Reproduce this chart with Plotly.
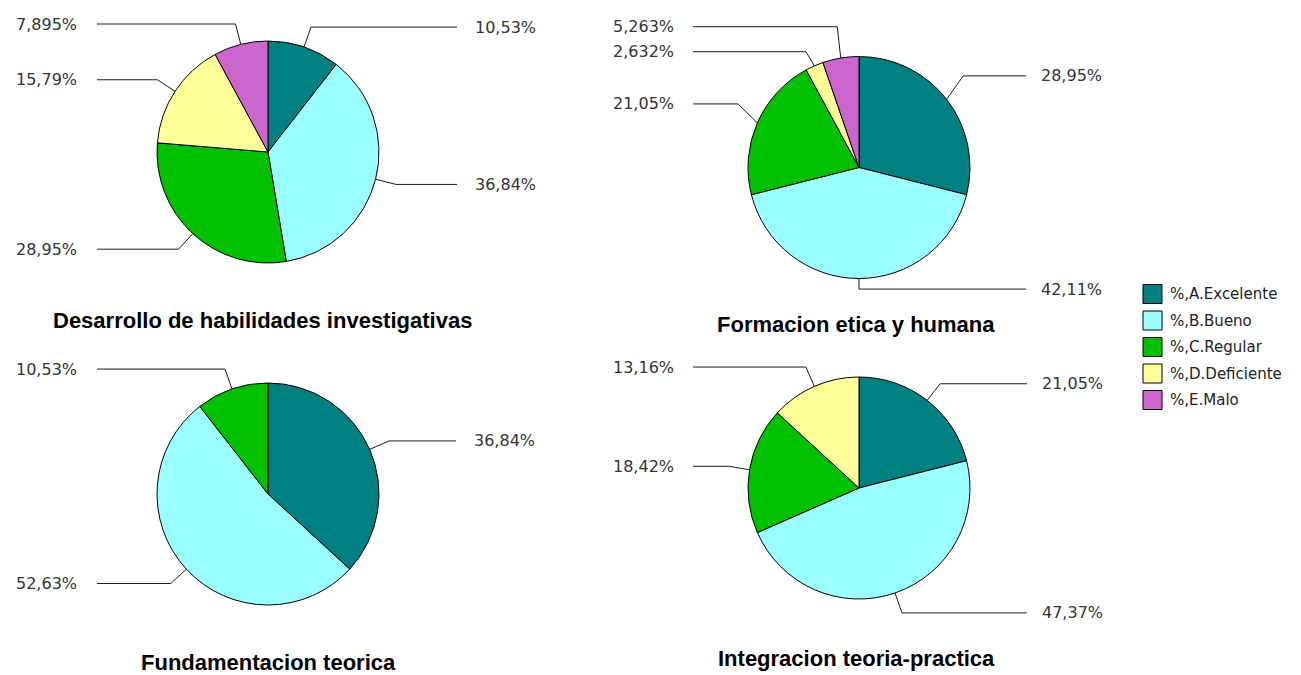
import math
import plotly.graph_objects as go

# ---------------- data ----------------
categories = ["%,A.Excelente", "%,B.Bueno", "%,C.Regular", "%,D.Deficiente", "%,E.Malo"]
colors = ["#008080", "#99FFFF", "#00C000", "#FFFF99", "#CC66CC"]

titles = [
    "Desarrollo de habilidades investigativas",
    "Formacion etica y humana",
    "Fundamentacion teorica",
    "Integracion teoria-practica",
]
desarrollo = [10.53, 36.84, 28.95, 15.79, 7.895]
formacion = [28.95, 42.11, 21.05, 2.632, 5.263]
fundamentacion = [36.84, 52.63, 10.53, 0, 0]
integracion = [21.05, 47.37, 18.42, 13.16, 0]
series = [desarrollo, formacion, fundamentacion, integracion]

# ---------------- layout (pixels) ----------------
W, H = 1301, 675
R = 111          # pie radius
K = 1.19         # elbow radius factor
GAP = 25         # min vertical gap between labels
YMIN = 24        # top clamp for labels

panels = [
    # cx, cy, label-centre dy, right line end, right text, left line start, left text, title x, title y
    dict(cx=268, cy=152, ldy=0, rl=189, rt=206, ll=171, lt=190, tx=262, ty=320),
    dict(cx=859, cy=167.5, ldy=-10.5, rl=167, rt=181, ll=166, lt=184, tx=856, ty=324),
    dict(cx=268, cy=494, ldy=0, rl=188, rt=205, ll=171, lt=190, tx=268, ty=662),
    dict(cx=859, cy=488, ldy=0, rl=168, rt=182, ll=166, lt=184, tx=856, ty=658),
]

LABEL_FONT = dict(family="DejaVu Sans, Verdana, sans-serif", size=16, color="#333333")
TITLE_FONT = dict(family="Liberation Sans, Arial, sans-serif", size=22, color="#000000", weight="bold")


def fx(x):
    return x / W


def fy(y):
    return 1 - y / H


def fmt(v):
    return "{:.4g}".format(v).replace(".", ",") + "%"


fig = go.Figure()
shapes = []
annotations = []

for vals_all, title, p in zip(series, titles, panels):
    cats = [c for c, v in zip(categories, vals_all) if v > 0]
    cols = [col for col, v in zip(colors, vals_all) if v > 0]
    vals = [v for v in vals_all if v > 0]
    cx, cy = p["cx"], p["cy"]
    fig.add_trace(go.Pie(
        labels=cats, values=vals, sort=False, direction="clockwise", rotation=0,
        marker=dict(colors=cols, line=dict(color="#000000", width=1)),
        textinfo="none", showlegend=False,
        hovertemplate="%{label}: %{value}<extra></extra>",
        domain=dict(x=[fx(cx - R), fx(cx + R)], y=[fy(cy + R), fy(cy - R)]),
    ))

    total = sum(vals)
    cum = 0.0
    items = []
    for v in vals:
        th = 2 * math.pi * (cum + v / 2) / total
        cum += v
        s, c = math.sin(th), math.cos(th)
        items.append(dict(
            v=v,
            edge=(cx + R * s, cy - R * c),
            ex=cx + K * R * s,
            ly=cy + p["ldy"] - K * R * c,
            side="right" if s > -0.02 else "left",
        ))

    for side in ("left", "right"):
        grp = sorted([it for it in items if it["side"] == side], key=lambda d: d["ly"])
        prev = None
        for it in grp:
            y = max(it["ly"], YMIN)
            if prev is not None:
                y = max(y, prev + GAP)
            it["ly"] = y
            prev = y

    for it in items:
        x0, y0 = it["edge"]
        ly = it["ly"]
        if it["side"] == "right":
            xend = cx + p["rl"]
            tx, anchor = cx + p["rt"], "left"
        else:
            xend = cx - p["ll"]
            tx, anchor = cx - p["lt"], "right"
        path = "M {:.5f},{:.5f} L {:.5f},{:.5f} L {:.5f},{:.5f}".format(
            fx(x0), fy(y0), fx(it["ex"]), fy(ly), fx(xend), fy(ly))
        shapes.append(dict(type="path", path=path, xref="paper", yref="paper",
                           line=dict(color="#1a1a1a", width=1)))
        annotations.append(dict(text=fmt(it["v"]), x=fx(tx), y=fy(ly), xref="paper", yref="paper",
                                xanchor=anchor, yanchor="middle", showarrow=False,
                                font=LABEL_FONT, borderpad=0))

    annotations.append(dict(text=title, x=fx(p["tx"]), y=fy(p["ty"]), xref="paper", yref="paper",
                            xanchor="center", yanchor="middle", showarrow=False, font=TITLE_FONT,
                            borderpad=0))

# ---------------- legend (manual) ----------------
LEG_X, LEG_Y0, LEG_DY, SQ = 1143, 294, 26.5, 19
for i, (cat, col) in enumerate(zip(categories, colors)):
    yc = LEG_Y0 + i * LEG_DY
    shapes.append(dict(type="rect", xref="paper", yref="paper",
                       x0=fx(LEG_X), x1=fx(LEG_X + SQ), y0=fy(yc + SQ / 2), y1=fy(yc - SQ / 2),
                       fillcolor=col, line=dict(color="#000000", width=1)))
    annotations.append(dict(text=cat, x=fx(LEG_X + SQ + 7), y=fy(yc), xref="paper", yref="paper",
                            xanchor="left", yanchor="middle", showarrow=False,
                            font=dict(family="DejaVu Sans, Verdana, sans-serif", size=15, color="#222222"),
                            borderpad=0))

fig.update_layout(
    width=W, height=H, margin=dict(l=0, r=0, t=0, b=0),
    paper_bgcolor="#FFFFFF", plot_bgcolor="#FFFFFF",
    shapes=shapes, annotations=annotations, showlegend=False,
)

fig.write_html(
    "out.html",
    config={"displayModeBar": False},
    post_script="document.body.style.margin='0px';document.body.style.overflow='hidden';",
)
